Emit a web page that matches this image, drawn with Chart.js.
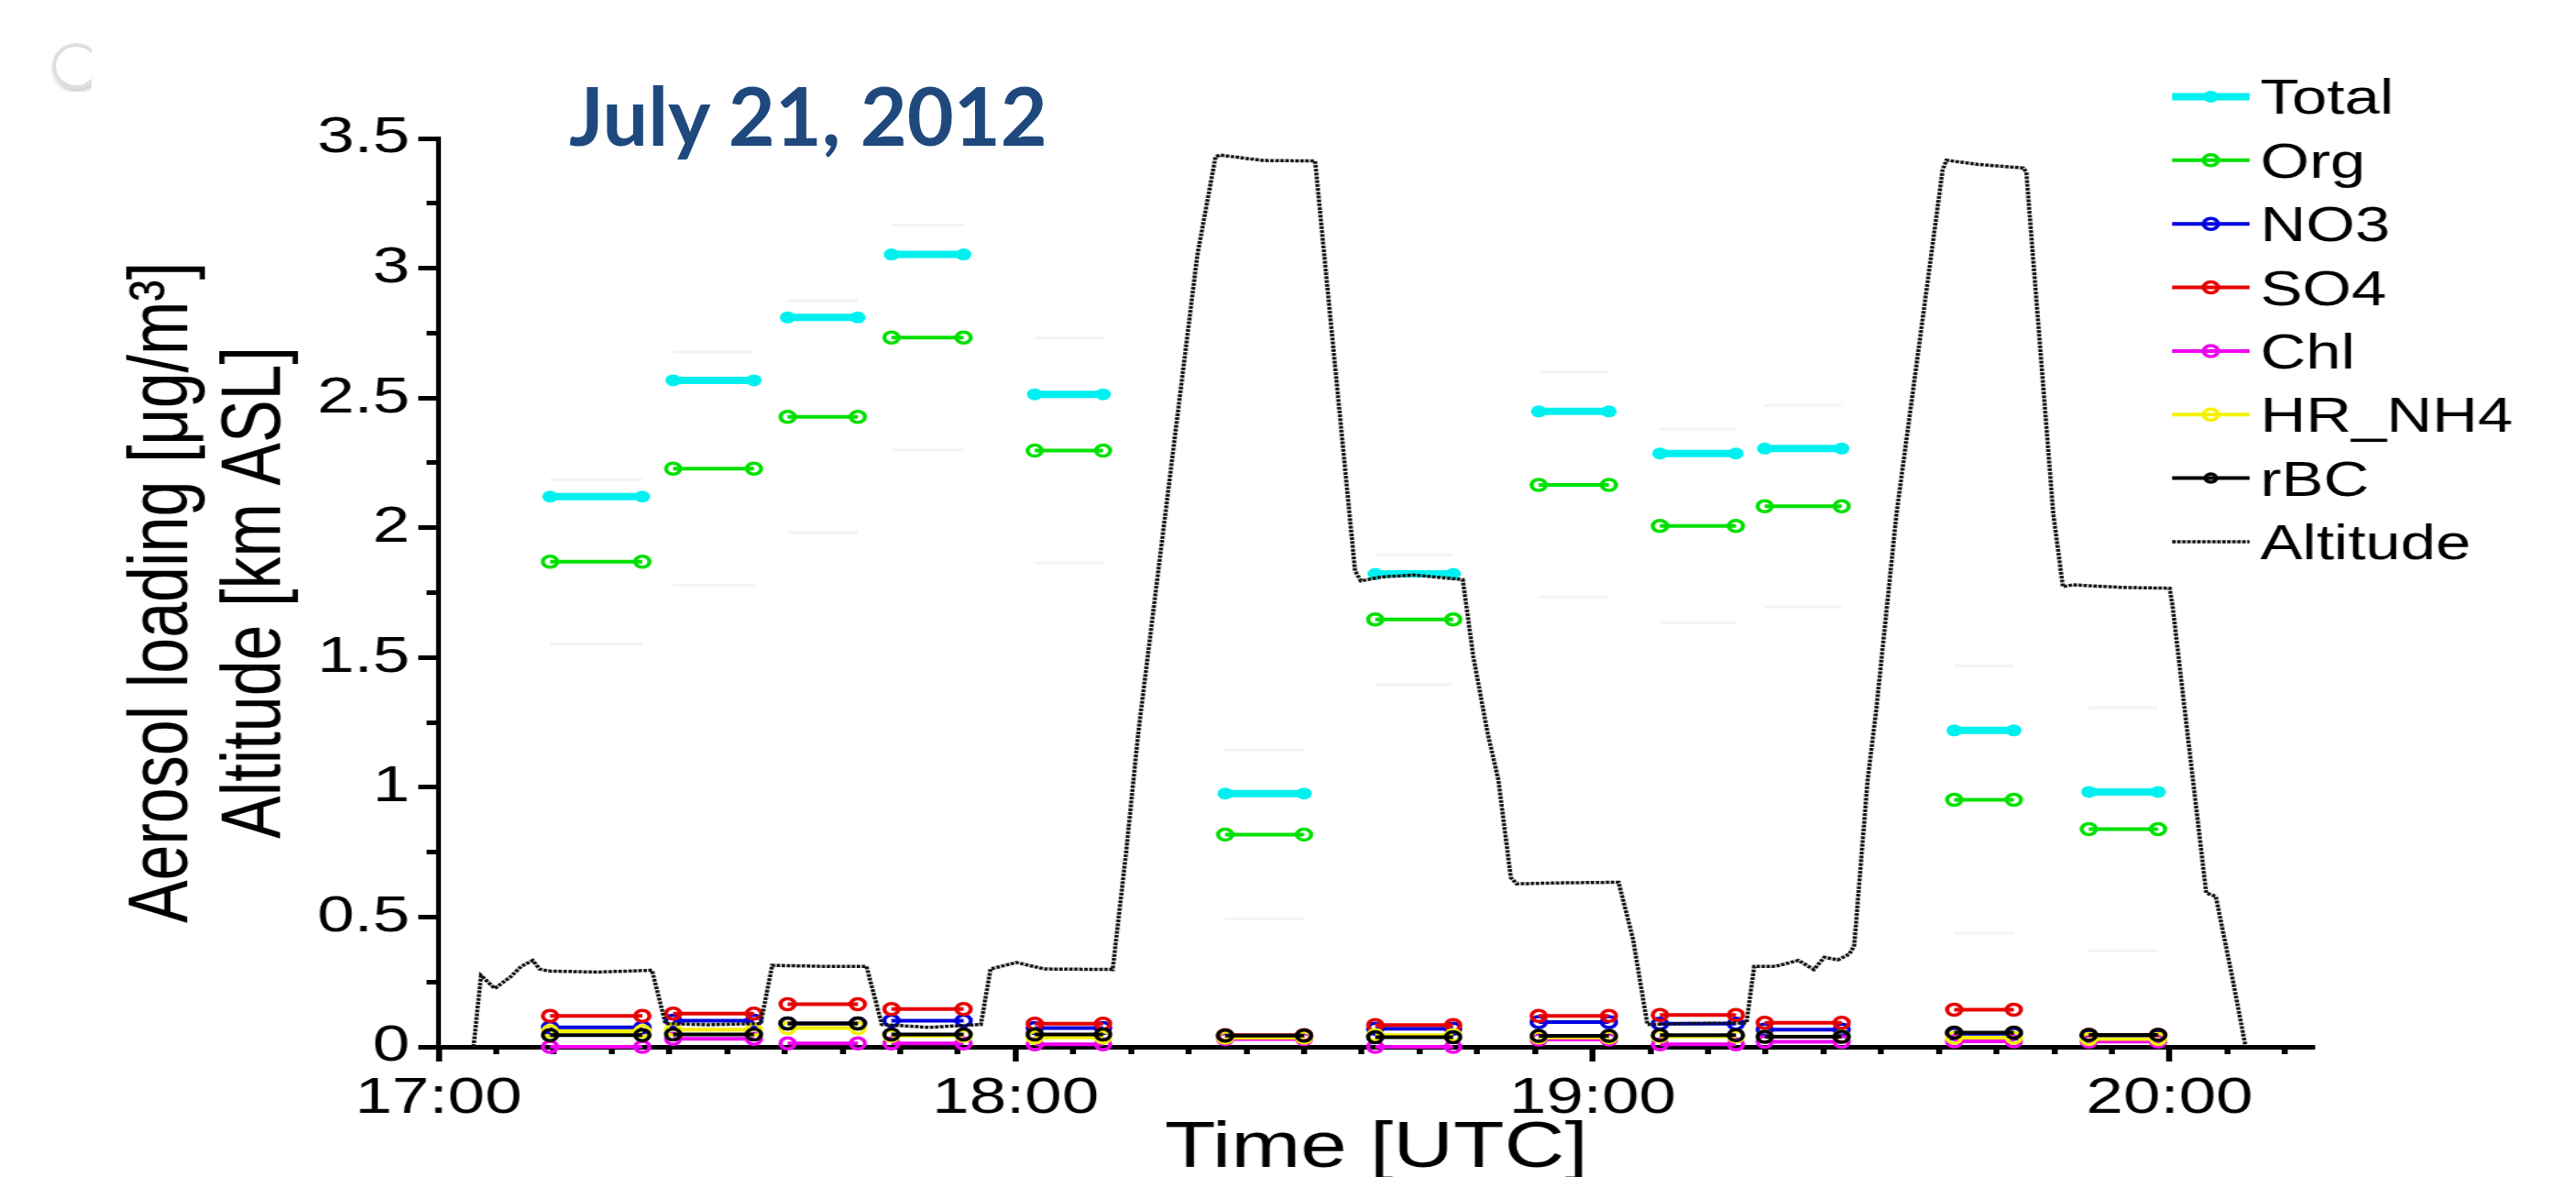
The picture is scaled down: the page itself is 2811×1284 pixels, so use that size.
<!DOCTYPE html>
<html>
<head>
<meta charset="utf-8">
<title>Aerosol loading and altitude - July 21, 2012</title>
<script src="https://cdn.jsdelivr.net/npm/chart.js"></script>
<style>
  html, body { margin: 0; padding: 0; background: #fff; overflow: hidden; }
  #wrap { position: relative; width: 2811px; height: 1284px; overflow: hidden; }
  /* the figure is stretched horizontally, so the canvas is drawn narrow and widened here */
  #chart { position: absolute; left: 0; top: 0; transform: scaleX(1.30019); transform-origin: 0 0; }
  #date {
    position: absolute; left: 621px; top: 81px;
    font: 700 88px Lato, "Open Sans", sans-serif; line-height: 1;
    color: #1f497d; white-space: nowrap;
  }
  #ring { position: absolute; left: 56px; top: 46px; width: 44px; height: 54px; overflow: hidden; }
  #ring div {
    width: 52px; height: 50px; box-sizing: border-box; margin: 1px 0 0 1px;
    border: 4px solid #dedede; border-radius: 50%;
    box-shadow: 1px 3px 4px rgba(0, 0, 0, 0.22);
  }
</style>
</head>
<body>
<div id="wrap">
  <canvas id="chart" width="2162" height="1284" style="width:2162px;height:1284px"></canvas>
  <div id="ring"><div></div></div>
  <div id="date">July 21, 2012</div>
</div>
<script>
// --- DATA (minutes after 17:00 UTC) ---

const hourLabels = ['17:00', '18:00', '19:00', '20:00'];

// sampling legs: start / end of each averaged level
const segStart = [11.6, 24.4, 36.3, 47.1, 62.0, 81.8, 97.4, 114.4, 127.0, 137.9, 157.6, 171.6];
const segEnd   = [21.2, 32.8, 43.6, 54.6, 69.1, 90.0, 105.5, 121.7, 134.9, 145.9, 163.8, 178.8];

// aerosol loading [ug/m3]
const totalVals = [2.12, 2.568, 2.81, 3.053, 2.514, 0.976, 1.822, 2.448, 2.286, 2.305, 1.219, 0.982];
const orgVals   = [1.869, 2.228, 2.427, 2.733, 2.297, 0.818, 1.647, 2.165, 2.007, 2.083, 0.952, 0.839];
const orgHi     = [2.185, 2.677, 2.874, 3.166, 2.732, 1.143, 1.896, 2.599, 2.38, 2.471, 1.468, 1.307];
const orgLo     = [1.553, 1.779, 1.981, 2.30, 1.865, 0.493, 1.396, 1.733, 1.634, 1.694, 0.437, 0.369];
const no3Vals   = [0.075, 0.101, 0.09, 0.101, 0.072, 0.04, 0.07, 0.095, 0.089, 0.066, 0.05, 0.04];
const so4Vals   = [0.119, 0.128, 0.164, 0.146, 0.089, 0.045, 0.084, 0.119, 0.123, 0.093, 0.143, 0.046];
const chlVals   = [0.0, 0.031, 0.013, 0.013, 0.01, 0.03, 0.0, 0.028, 0.01, 0.019, 0.021, 0.02];
const nh4Vals   = [0.06, 0.066, 0.072, 0.042, 0.036, 0.035, 0.045, 0.036, 0.04, 0.04, 0.035, 0.03];
const rbcVals   = [0.045, 0.048, 0.09, 0.048, 0.048, 0.043, 0.037, 0.042, 0.045, 0.039, 0.055, 0.046];

// flight altitude [km ASL]
const altTime = [3.64, 4.42, 5.85, 7.5, 8.6, 9.8, 10.5, 11.4, 16.5, 22.2,
  23.6, 28.0, 33.5, 34.7, 40.0, 44.5, 46.1, 51.0, 56.4, 57.4,
  60.1, 63.0, 70.1, 71.5, 72.75, 78.9, 80.8, 81.25, 85.7, 91.15,
  92.1, 95.3, 95.9, 98.0, 101.4, 106.5, 107.6, 109.1, 110.2, 111.5,
  112.1, 117.0, 122.7, 124.2, 125.7, 130.0, 136.0, 136.8, 139.0, 141.4,
  143.0, 144.1, 145.5, 146.7, 147.2, 148.6, 149.5, 151.6, 156.4, 156.8,
  160.0, 164.8, 165.1, 167.9, 168.9, 169.9, 175.0, 180.0, 180.3, 183.8,
  184.8, 186.5, 187.9];
const altKm = [0, 0.275, 0.225, 0.27, 0.31, 0.333, 0.30, 0.292, 0.288, 0.295,
  0.09, 0.085, 0.09, 0.314, 0.31, 0.31, 0.086, 0.075, 0.086, 0.30,
  0.325, 0.30, 0.298, 0.75, 1.206, 3.05, 3.43, 3.436, 3.415, 3.413,
  3.05, 1.834, 1.795, 1.81, 1.818, 1.80, 1.503, 1.206, 1.029, 0.652,
  0.628, 0.632, 0.634, 0.416, 0.086, 0.09, 0.092, 0.31, 0.31, 0.333,
  0.298, 0.345, 0.335, 0.357, 0.39, 1.029, 1.30, 2.054, 3.38, 3.416,
  3.40, 3.386, 3.369, 2.054, 1.773, 1.78, 1.77, 1.767, 1.70, 0.593,
  0.58, 0.27, 0];

const legendOrder = ['Total', 'Org', 'NO3', 'SO4', 'Chl', 'HR_NH4', 'rBC', 'Altitude'];

// --- LAYOUT (canvas units, before the horizontal stretch) ---

const CANVAS_W = 2162;
const CANVAS_H = 1284;
const PLOT = { left: 368, right: 1942, top: 151, bottom: 1142 };
const LEG = { x0: 1823, x1: 1888, text: 1897, y0: 105.5, dy: 69.35, font: 53 };

const FONT = '"Liberation Sans", Arial, Helvetica, sans-serif';
Chart.defaults.font.family = FONT;
Chart.defaults.color = '#000';

// --- HELPERS ---

// one flat line per leg, broken between legs
function segmentPoints(values) {
    const pts = [];
    values.forEach((v, i) => {
        pts.push({ x: segStart[i], y: v }, { x: segEnd[i], y: v }, { x: segEnd[i], y: null });
    });
    return pts;
}

function species(label, values, color, order) {
    return {
        label, order,
        data: segmentPoints(values),
        borderColor: color,
        borderWidth: 4,
        pointStyle: 'circle',
        pointRadius: 6,
        pointBorderWidth: 3.5,
        pointBorderColor: color,
        pointBackgroundColor: 'rgba(0,0,0,0)',
        spanGaps: false,
        clip: false
    };
}

// barely visible spread marks around Org
function faint(label, values) {
    return {
        label, order: 20,
        data: segmentPoints(values),
        borderColor: '#f3f3f3',
        borderWidth: 3,
        pointRadius: 0,
        spanGaps: false
    };
}

const isMajorY = v => Math.abs(v / 0.5 - Math.round(v / 0.5)) < 1e-6;

// legend drawn at the top right, over the plot edge
const sideLegend = {
    id: 'sideLegend',
    afterDraw(chart) {
        const ctx = chart.ctx;
        ctx.save();
        legendOrder.forEach((name, row) => {
            const ds = chart.data.datasets.find(d => d.label === name);
            if (!ds) return;
            const y = LEG.y0 + row * LEG.dy;
            const xm = (LEG.x0 + LEG.x1) / 2;

            ctx.strokeStyle = ds.borderColor;
            ctx.lineWidth = ds.borderWidth;
            ctx.setLineDash(ds.borderDash || []);
            ctx.beginPath();
            ctx.moveTo(LEG.x0, y);
            ctx.lineTo(LEG.x1, y);
            ctx.stroke();
            ctx.setLineDash([]);

            if (ds.pointRadius > 0) {
                const r = name === 'rBC' ? 4.5 : ds.pointRadius;
                ctx.beginPath();
                ctx.arc(xm, y, r, 0, Math.PI * 2);
                if (ds.pointBorderWidth > 0) {
                    ctx.lineWidth = ds.pointBorderWidth;
                    ctx.strokeStyle = ds.pointBorderColor;
                    ctx.stroke();
                } else {
                    ctx.fillStyle = ds.pointBackgroundColor;
                    ctx.fill();
                }
            }

            ctx.fillStyle = '#000';
            ctx.font = `${LEG.font}px ${FONT}`;
            ctx.textAlign = 'left';
            ctx.textBaseline = 'alphabetic';
            ctx.fillText(name, LEG.text, y + LEG.font * 0.358);
        });
        ctx.restore();
    }
};

// --- CHART ---

const datasets = [
    {
        label: 'Altitude', order: 0,
        data: altTime.map((t, i) => ({ x: t, y: altKm[i] })),
        borderColor: '#111',
        borderWidth: 3.5,
        borderDash: [3, 1.2],
        pointRadius: 0,
        clip: false
    },
    species('rBC', rbcVals, '#000000', 1),
    species('HR_NH4', nh4Vals, '#f4f000', 2),
    species('Chl', chlVals, '#f000f0', 3),
    species('SO4', so4Vals, '#e60000', 4),
    species('NO3', no3Vals, '#0000e0', 5),
    species('Org', orgVals, '#00e000', 6),
    {
        label: 'Total', order: 7,
        data: segmentPoints(totalVals),
        borderColor: '#00f0f0',
        borderWidth: 8,
        pointStyle: 'circle',
        pointRadius: 6.5,
        pointBorderWidth: 0,
        pointBackgroundColor: '#00f0f0',
        spanGaps: false,
        clip: false
    },
    faint('Org upper', orgHi),
    faint('Org lower', orgLo)
];

new Chart(document.getElementById('chart'), {
    type: 'line',
    data: { datasets },
    options: {
        responsive: false,
        animation: false,
        devicePixelRatio: 1,
        events: [],
        layout: { padding: { left: 0, top: PLOT.top, right: CANVAS_W - PLOT.right, bottom: 0 } },
        elements: { line: { tension: 0 } },
        plugins: { legend: { display: false }, tooltip: { enabled: false } },
        scales: {
            x: {
                type: 'linear',
                min: 0,
                max: 195,
                afterFit: s => { s.height = CANVAS_H - PLOT.bottom; },
                border: { display: true, color: '#000', width: 5 },
                grid: {
                    drawOnChartArea: false,
                    tickLength: 16,
                    tickWidth: 5,
                    tickColor: '#000',
                    tickBorderDash: c => (c.tick && c.tick.value % 60 !== 0) ? [5, 100] : []
                },
                ticks: {
                    stepSize: 6,
                    includeBounds: false,
                    autoSkip: false,
                    maxRotation: 0,
                    font: { size: 56 },
                    padding: 7,
                    callback: v => v % 60 === 0 ? hourLabels[v / 60] : ''
                },
                title: {
                    display: true,
                    text: 'Time [UTC]',
                    font: { size: 70, lineHeight: 1 },
                    padding: { top: 0, bottom: -5 }
                }
            },
            y: {
                min: 0,
                max: 3.5,
                afterFit: s => { s.width = PLOT.left; },
                border: { display: true, color: '#000', width: 4 },
                grid: {
                    drawOnChartArea: false,
                    tickLength: 17,
                    tickWidth: 5,
                    tickColor: '#000',
                    tickBorderDash: c => (c.tick && !isMajorY(c.tick.value)) ? [8.5, 7] : [],
                    tickBorderDashOffset: c => (c.tick && !isMajorY(c.tick.value)) ? 8.5 : 0
                },
                ticks: {
                    stepSize: 0.25,
                    autoSkip: false,
                    font: { size: 56 },
                    padding: 7,
                    callback: v => isMajorY(v) ? String(v) : ''
                },
                title: {
                    display: true,
                    text: ['Aerosol loading [\u03bcg/m\u00b3]', 'Altitude [km ASL]'],
                    font: { size: 70, lineHeight: 78 / 70 },
                    padding: { top: 99, bottom: 0 }
                }
            }
        }
    },
    plugins: [sideLegend]
});
</script>
</body>
</html>
